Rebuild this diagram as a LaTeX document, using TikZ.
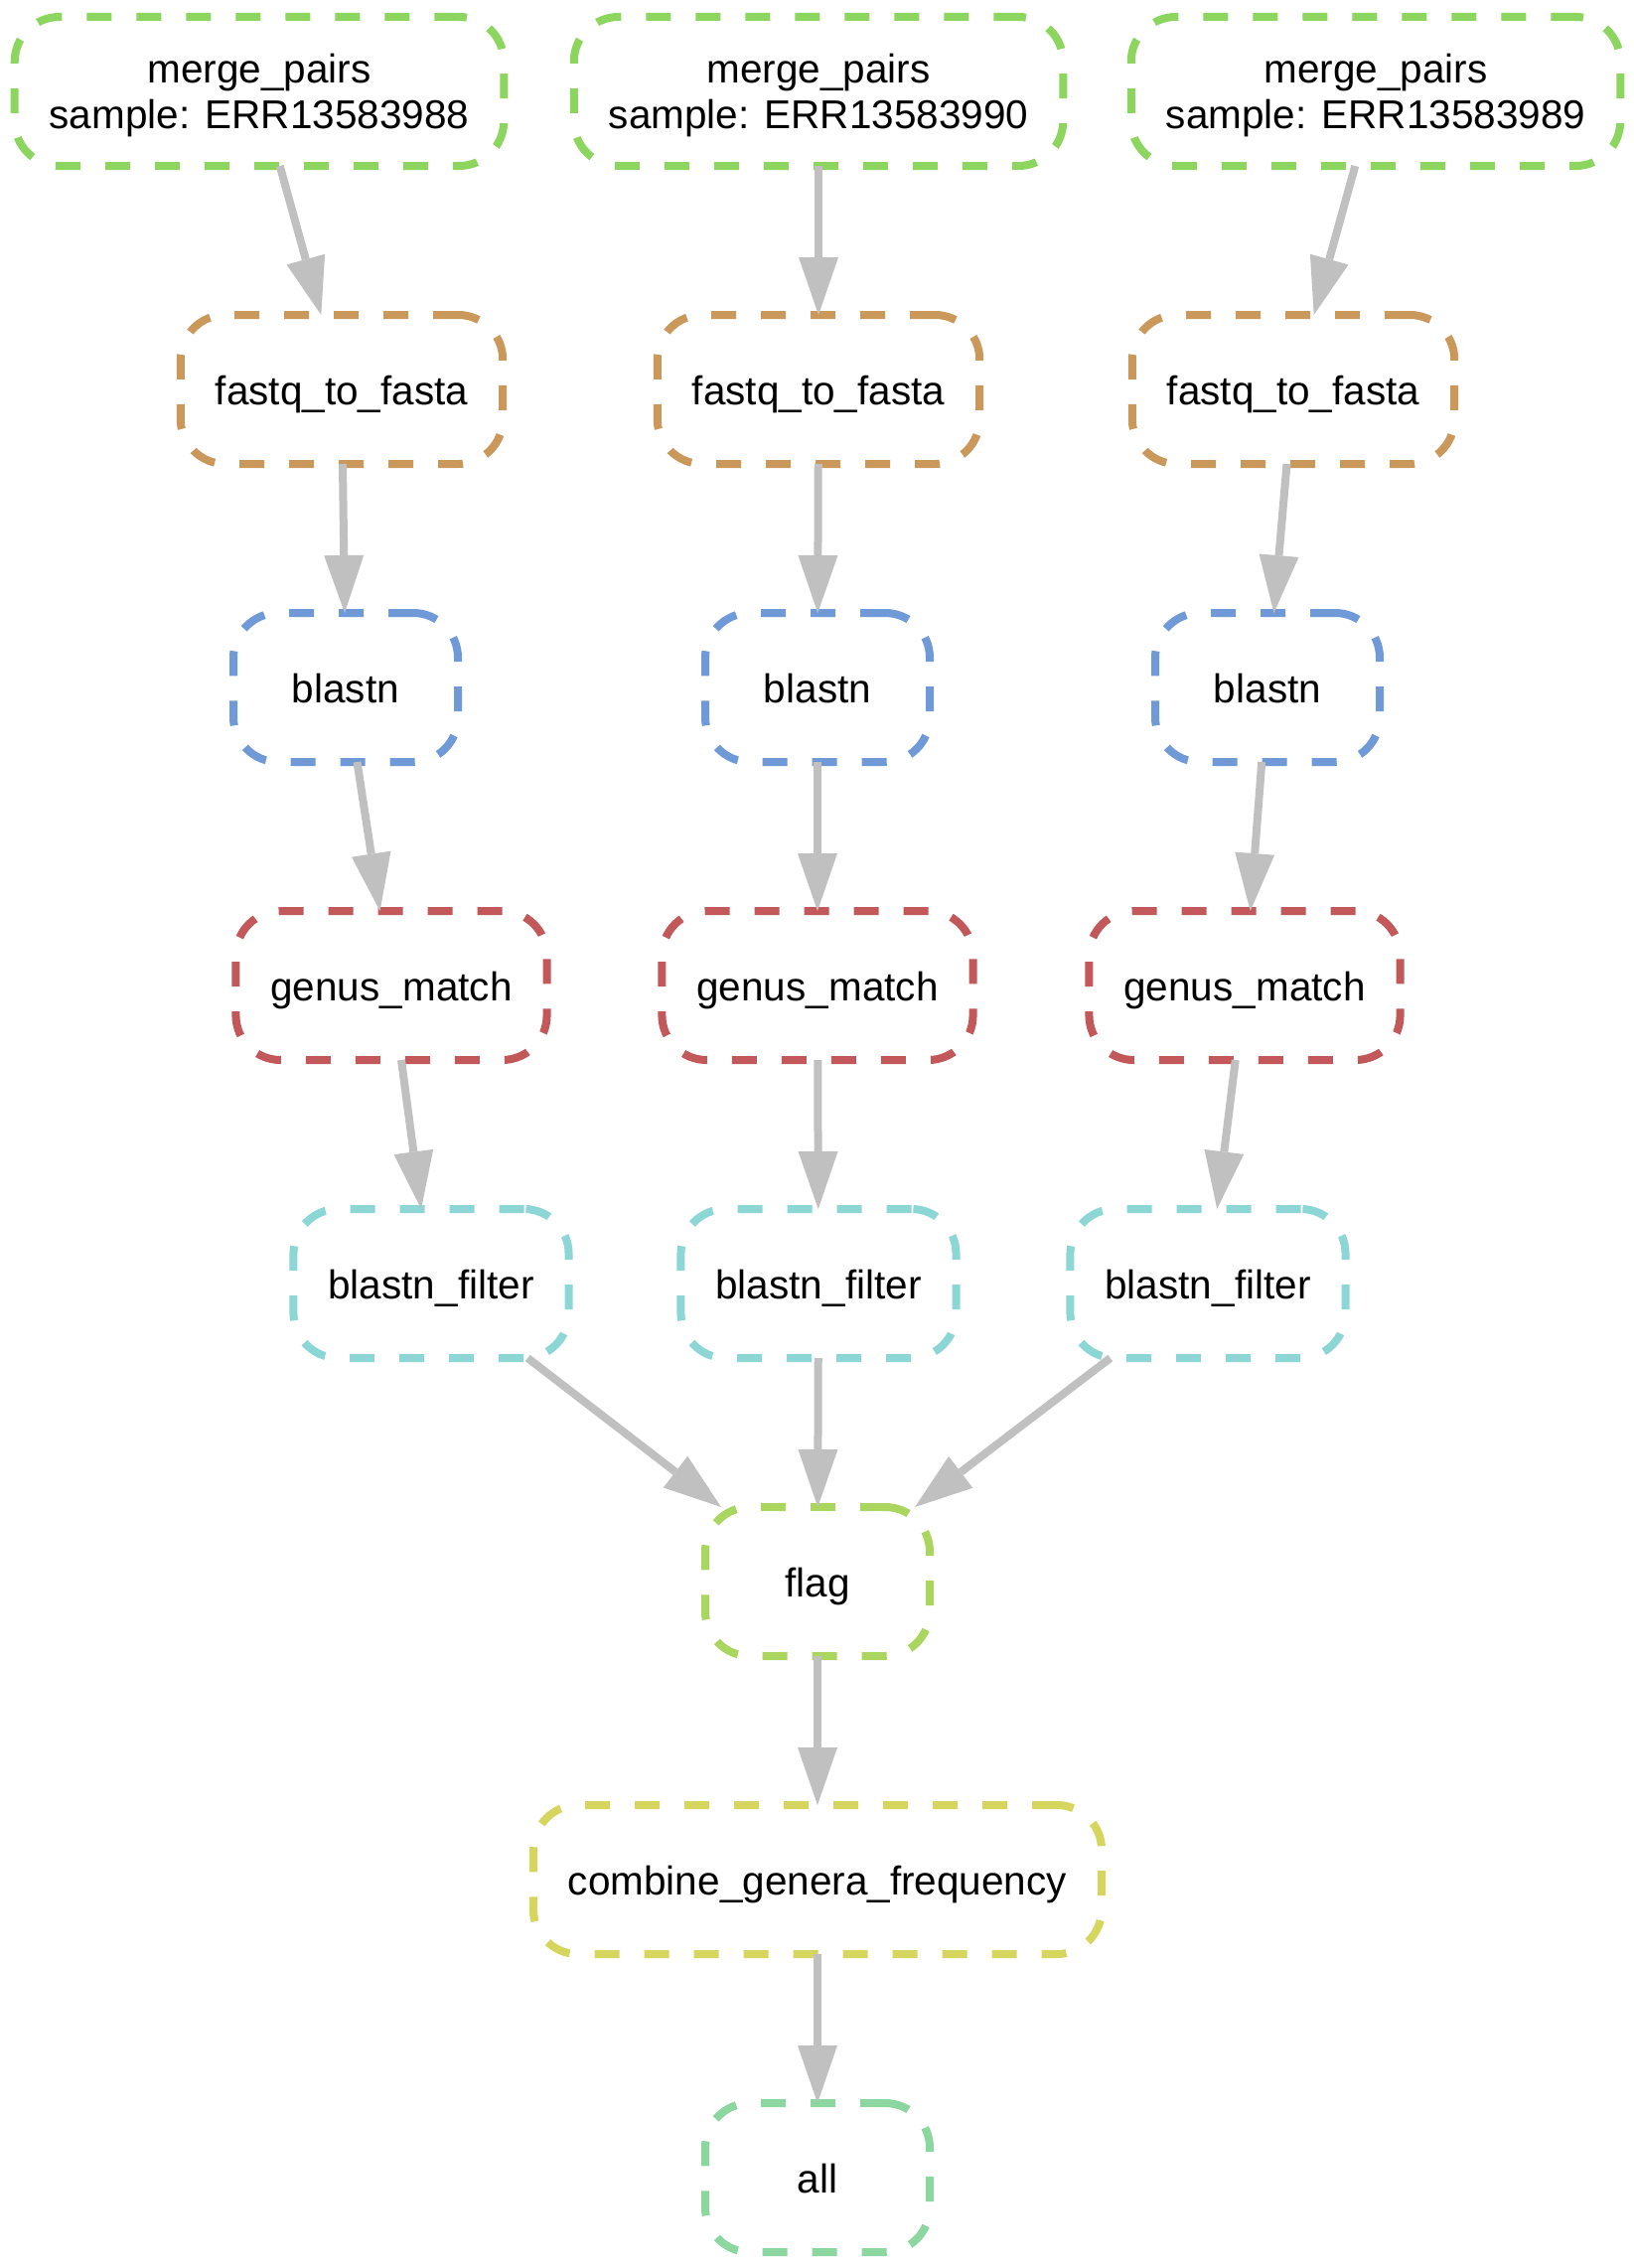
\documentclass[tikz,border=0pt]{standalone}
\usepackage{fontspec}
\setmainfont{Liberation Sans}
\usetikzlibrary{arrows.meta}

\definecolor{cmerge}{RGB}{140,214,95}
\definecolor{cfastq}{RGB}{202,152,91}
\definecolor{cblast}{RGB}{111,154,215}
\definecolor{cgenus}{RGB}{194,88,90}
\definecolor{cfilter}{RGB}{140,214,214}
\definecolor{cflag}{RGB}{170,214,95}
\definecolor{ccombine}{RGB}{214,214,95}
\definecolor{call}{RGB}{140,214,160}
\definecolor{cflow}{RGB}{192,192,192}

\begin{document}
\begin{tikzpicture}[x=1pt, y=-1pt,
	rulebox/.style={draw, dash pattern=on 25pt off 25pt, line width=8pt, rounded corners=45pt,
		minimum width=226pt, minimum height=150pt, inner xsep=35pt, outer sep=0pt,
		font=\fontsize{40.5}{46}\selectfont, align=center},
	tworow/.style={rulebox, text depth=0pt},
	onerow/.style={rulebox, text height=30pt, text depth=0pt},
	flow/.style={draw=cflow, line width=8pt, -{Triangle[length=58pt, width=40pt, line width=0pt]}}]
		\useasboundingbox (0, 0) rectangle (1645, 2283);
		\node (mp1)at (261, 92)[tworow, draw=cmerge]  {merge\_pairs\\sample: ERR13583988};
		\node (mp2)at (824, 92)[tworow, draw=cmerge]  {merge\_pairs\\sample: ERR13583990};
		\node (mp3)at (1385, 92)[tworow, draw=cmerge]  {merge\_pairs\\sample: ERR13583989};
		\node (fq1)at (344, 392)[onerow, draw=cfastq]  {fastq\_to\_fasta};
		\node (fq2)at (824, 392)[onerow, draw=cfastq]  {fastq\_to\_fasta};
		\node (fq3)at (1302, 392)[onerow, draw=cfastq]  {fastq\_to\_fasta};
		\node (bl1)at (348, 692)[onerow, draw=cblast]  {blastn};
		\node (bl2)at (823, 692)[onerow, draw=cblast]  {blastn};
		\node (bl3)at (1276, 692)[onerow, draw=cblast]  {blastn};
		\node (gm1)at (394, 992)[onerow, draw=cgenus]  {genus\_match};
		\node (gm2)at (823, 992)[onerow, draw=cgenus]  {genus\_match};
		\node (gm3)at (1253, 992)[onerow, draw=cgenus]  {genus\_match};
		\node (bf1)at (434, 1292)[onerow, draw=cfilter]  {blastn\_filter};
		\node (bf2)at (824, 1292)[onerow, draw=cfilter]  {blastn\_filter};
		\node (bf3)at (1216, 1292)[onerow, draw=cfilter]  {blastn\_filter};
		\node (fl)at (823, 1592)[onerow, draw=cflag]  {flag};
		\node (cg)at (823, 1892)[onerow, draw=ccombine]  {combine\_genera\_frequency};
		\node (al)at (823, 2192)[onerow, draw=call]  {all};
		\draw [flow](mp1)to(fq1);
		\draw [flow](mp2)to(fq2);
		\draw [flow](mp3)to(fq3);
		\draw [flow](fq1)to(bl1);
		\draw [flow](fq2)to(bl2);
		\draw [flow](fq3)to(bl3);
		\draw [flow](bl1)to(gm1);
		\draw [flow](bl2)to(gm2);
		\draw [flow](bl3)to(gm3);
		\draw [flow](gm1)to(bf1);
		\draw [flow](gm2)to(bf2);
		\draw [flow](gm3)to(bf3);
		\draw [flow](bf1)to(fl);
		\draw [flow](bf2)to(fl);
		\draw [flow](bf3)to(fl);
		\draw [flow](fl)to(cg);
		\draw [flow](cg)to(al);
	\end{tikzpicture}
\end{document}
